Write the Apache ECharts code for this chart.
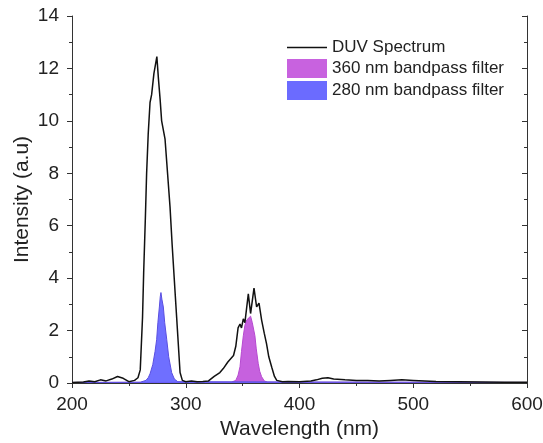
<!DOCTYPE html>
<html>
<head>
<meta charset="utf-8">
<script src="https://cdn.jsdelivr.net/npm/echarts@6/dist/echarts.min.js"></script>
<style>
  html, body { margin: 0; padding: 0; background: #fff; }
  #main { width: 543px; height: 443px; }
</style>
</head>
<body>
<div id="main"></div>
<script>
// DUV spectrum (black line)
var duvX = [200, 210, 215, 220, 225, 230, 235, 240, 245, 250, 255, 258, 260, 262, 263, 264.5, 265.6, 267, 268.6, 270, 272, 274.6, 276, 277.5, 278.8, 281.8, 284, 286.2, 288, 290.5, 293, 295, 297, 300, 305, 310, 315, 320, 325, 330, 333, 337, 342, 344, 346, 347.7, 349, 350.6, 352, 355, 357, 360, 362.3, 364.4, 366.7, 369, 371, 373, 375.6, 378, 380, 385, 390, 400, 410, 415, 420, 425, 430, 440, 450, 460, 470, 480, 490, 500, 510, 520, 540, 560, 580, 600];
var duvY = [0.02, 0.04, 0.08, 0.05, 0.12, 0.08, 0.15, 0.25, 0.18, 0.05, 0.1, 0.2, 0.5, 2.5, 4.2, 6.3, 8.0, 9.5, 10.7, 11.0, 11.8, 12.45, 11.6, 10.8, 10.0, 9.3, 8.0, 6.7, 5.3, 3.55, 1.8, 0.4, 0.1, 0.05, 0.08, 0.05, 0.06, 0.08, 0.25, 0.4, 0.55, 0.8, 1.05, 1.4, 2.1, 2.25, 2.1, 2.45, 2.3, 3.4, 2.65, 3.62, 2.9, 3.05, 2.4, 1.9, 1.5, 1.0, 0.6, 0.25, 0.1, 0.05, 0.06, 0.05, 0.08, 0.12, 0.18, 0.2, 0.15, 0.12, 0.1, 0.1, 0.08, 0.1, 0.12, 0.1, 0.08, 0.06, 0.05, 0.04, 0.03, 0.03];

// 360 nm bandpass filter (magenta fill)
var f360X = [200, 340, 344, 346, 347.7, 349, 350.6, 352, 353.5, 355, 357, 358.5, 360.8, 362, 363.7, 365, 366.7, 369, 372, 600];
var f360Y = [0.02, 0.03, 0.1, 0.3, 0.62, 1.2, 1.8, 2.2, 2.4, 2.45, 2.55, 2.3, 1.8, 1.3, 0.75, 0.45, 0.24, 0.08, 0.03, 0.02];

// 280 nm bandpass filter (blue fill)
var f280X = [200, 260, 265, 267, 268.6, 271, 273, 274.4, 275.5, 276.8, 277.6, 278.2, 279, 280.3, 281.5, 283.3, 285, 287.6, 290, 293, 600];
var f280Y = [0.02, 0.03, 0.1, 0.2, 0.35, 0.7, 1.2, 1.65, 2.3, 2.9, 3.3, 3.45, 3.2, 2.9, 2.3, 1.65, 1.0, 0.4, 0.15, 0.05, 0.02];

var seriesNames = ['DUV Spectrum', '360 nm bandpass filter', '280 nm bandpass filter'];

function pairs(xs, ys) {
  var out = [];
  for (var i = 0; i < xs.length; i++) out.push([xs[i], ys[i]]);
  return out;
}

var myChart = echarts.init(document.getElementById('main'));
var font = 'Liberation Sans, Arial, sans-serif';
var axisLine = { show: true, lineStyle: { color: '#333', width: 1 } };

var option = {
  animation: false,
  textStyle: { fontFamily: font },
  grid: { left: 72, right: 16, top: 16, bottom: 60, outerBoundsMode: 'none', containLabel: false },
  legend: {
    orient: 'vertical',
    left: 287,
    top: 39,
    padding: 0,
    itemWidth: 40,
    itemHeight: 19,
    itemGap: 3,
    textStyle: { fontSize: 17, color: '#222', fontFamily: font },
    data: [
      { name: seriesNames[0], icon: 'path://M0,0L40,0L40,1.4L0,1.4Z' },
      { name: seriesNames[1], icon: 'rect' },
      { name: seriesNames[2], icon: 'rect' }
    ]
  },
  xAxis: [{
    type: 'value', min: 200, max: 600, interval: 100,
    name: 'Wavelength (nm)', nameLocation: 'middle', nameGap: 36,
    nameMoveOverlap: false,
    nameTextStyle: { fontSize: 21, color: '#222' },
    axisLine: axisLine,
    axisTick: { show: true, length: 5, lineStyle: { color: '#333' } },
    minorTick: { show: true, splitNumber: 2, length: 3, lineStyle: { color: '#333' } },
    axisLabel: { fontSize: 19, color: '#222', margin: 12 },
    splitLine: { show: false }
  }, {
    type: 'value', min: 200, max: 600, interval: 100, position: 'top',
    axisLine: axisLine,
    axisTick: { show: true, inside: true, length: 5, lineStyle: { color: '#333' } },
    minorTick: { show: true, splitNumber: 2, length: 3, lineStyle: { color: '#333' } },
    axisLabel: { show: false },
    splitLine: { show: false }
  }],
  yAxis: [{
    type: 'value', min: 0, max: 14, interval: 2,
    name: 'Intensity (a.u)', nameLocation: 'middle', nameGap: 39,
    nameMoveOverlap: false,
    nameTextStyle: { fontSize: 21, color: '#222' },
    axisLine: axisLine,
    axisTick: { show: true, length: 5, lineStyle: { color: '#333' } },
    minorTick: { show: true, splitNumber: 2, length: 3, lineStyle: { color: '#333' } },
    axisLabel: { fontSize: 19, color: '#222', margin: 13 },
    splitLine: { show: false }
  }, {
    type: 'value', min: 0, max: 14, interval: 2, position: 'right',
    axisLine: axisLine,
    axisTick: { show: true, inside: true, length: 5, lineStyle: { color: '#333' } },
    minorTick: { show: true, splitNumber: 2, length: 3, lineStyle: { color: '#333' } },
    axisLabel: { show: false },
    splitLine: { show: false }
  }],
  series: [{
    name: seriesNames[1],
    type: 'line',
    data: pairs(f360X, f360Y),
    symbol: 'none',
    itemStyle: { color: '#c862df' },
    lineStyle: { color: '#b64ad0', width: 1 },
    areaStyle: { color: '#c050da', opacity: 0.9 },
    z: 2
  }, {
    name: seriesNames[2],
    type: 'line',
    data: pairs(f280X, f280Y),
    symbol: 'none',
    itemStyle: { color: '#6b6bff' },
    lineStyle: { color: '#5a4fe0', width: 1 },
    areaStyle: { color: '#5f5fff', opacity: 0.9 },
    z: 3
  }, {
    name: seriesNames[0],
    type: 'line',
    data: pairs(duvX, duvY),
    symbol: 'none',
    itemStyle: { color: '#111' },
    lineStyle: { color: '#111', width: 1.5 },
    z: 4
  }]
};

myChart.setOption(option);
</script>
</body>
</html>
